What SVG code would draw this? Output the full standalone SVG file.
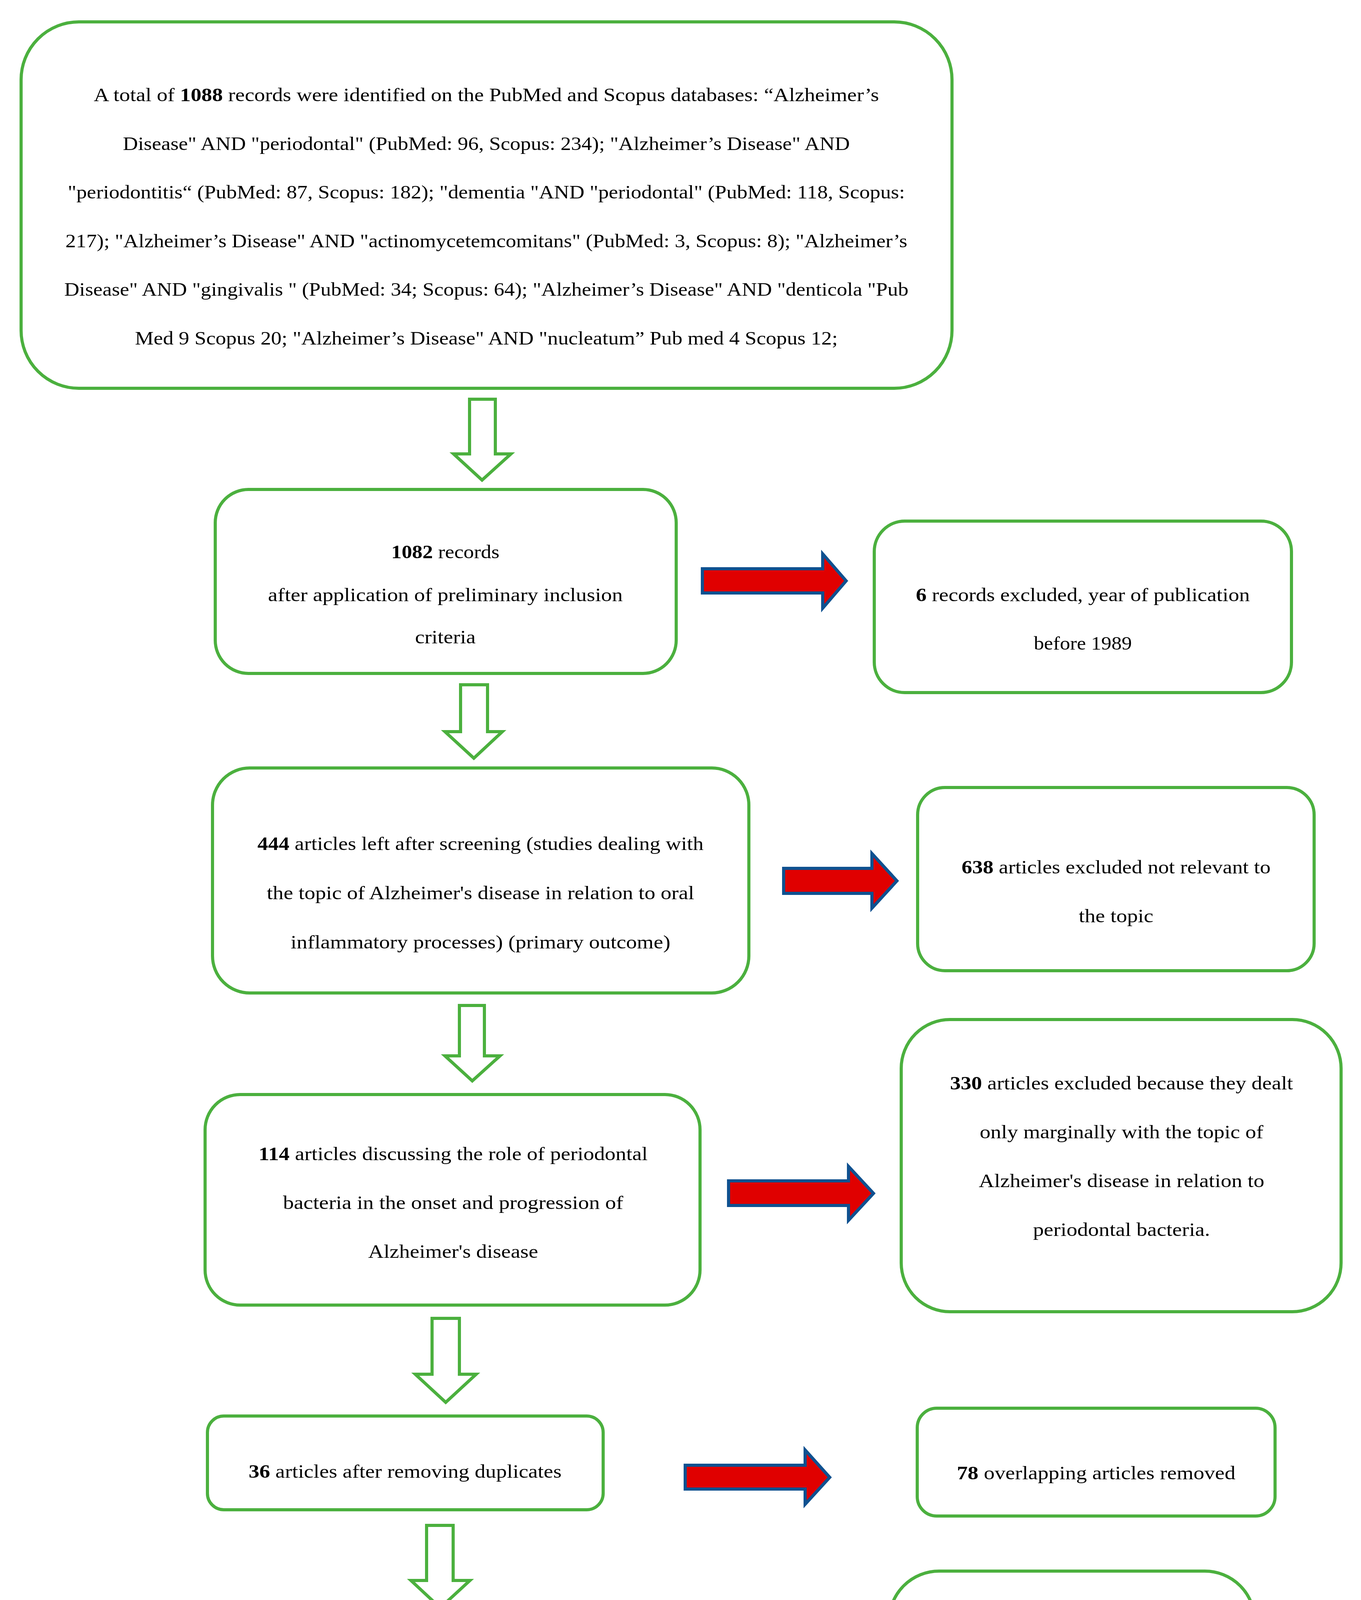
<svg xmlns="http://www.w3.org/2000/svg" width="3484" height="4750" viewBox="0 0 3484 4750">
<style>
.box{fill:#FFFFFF;stroke:#4BB03E;stroke-width:8}
.ga{fill:#FFFFFF;stroke:#4BB03E;stroke-width:8;stroke-linejoin:miter}
.ra{fill:#E00000;stroke:#0F5190;stroke-width:8;stroke-linejoin:miter}
.t{font-family:"Liberation Serif","Times New Roman",serif;font-size:49px;fill:#000000;text-anchor:middle}
.b{font-weight:bold}
</style>
<rect x="0" y="0" width="3484" height="4750" fill="#FFFFFF"/>
<g id="connectors">
<path class="ga" d="M1202,1022 L1268,1022 L1268,1162 L1308,1162 L1234,1229 L1161,1162 L1202,1162 Z"/>
<path class="ga" d="M1179,1753 L1248,1753 L1248,1873 L1286,1873 L1213,1941 L1139,1873 L1179,1873 Z"/>
<path class="ga" d="M1176,2574 L1240,2574 L1240,2703 L1280,2703 L1209,2767 L1139,2703 L1176,2703 Z"/>
<path class="ga" d="M1106,3375 L1176,3375 L1176,3518 L1219,3518 L1141,3590 L1063,3518 L1106,3518 Z"/>
<path class="ga" d="M1092,3905 L1160,3905 L1160,4046 L1203,4046 L1127,4116 L1052,4046 L1092,4046 Z"/>
<path class="ra" d="M1798,1456 L2106,1456 L2106,1418 L2166,1487 L2106,1557 L2106,1518 L1798,1518 Z"/>
<path class="ra" d="M2006,2223 L2232,2223 L2232,2185 L2296,2255 L2232,2325 L2232,2287 L2006,2287 Z"/>
<path class="ra" d="M1865,3023 L2172,3023 L2172,2986 L2236,3055 L2172,3124 L2172,3086 L1865,3086 Z"/>
<path class="ra" d="M1754,3751 L2061,3751 L2061,3712 L2124,3782 L2061,3851 L2061,3812 L1754,3812 Z"/>
<path class="ra" d="M1818,4334 L2126,4334 L2126,4296 L2188,4364 L2126,4430 L2126,4394 L1818,4394 Z"/>
</g>
<g id="n1">
<rect class="box" x="54" y="56" width="2383" height="938" rx="148" ry="148"/>
<text class="t" x="1245" y="259" textLength="2010" lengthAdjust="spacingAndGlyphs">A total of <tspan class="b">1088</tspan> records were identified on the PubMed and Scopus databases: “Alzheimer’s</text>
<text class="t" x="1245" y="384" textLength="1861" lengthAdjust="spacingAndGlyphs">Disease" AND "periodontal" (PubMed: 96, Scopus: 234); "Alzheimer’s Disease" AND</text>
<text class="t" x="1245" y="508" textLength="2143" lengthAdjust="spacingAndGlyphs">"periodontitis“ (PubMed: 87, Scopus: 182); "dementia "AND "periodontal" (PubMed: 118, Scopus:</text>
<text class="t" x="1245" y="633" textLength="2155" lengthAdjust="spacingAndGlyphs">217); "Alzheimer’s Disease" AND "actinomycetemcomitans" (PubMed: 3, Scopus: 8); "Alzheimer’s</text>
<text class="t" x="1245" y="757" textLength="2161" lengthAdjust="spacingAndGlyphs">Disease" AND "gingivalis " (PubMed: 34; Scopus: 64); "Alzheimer’s Disease" AND "denticola "Pub</text>
<text class="t" x="1245" y="882" textLength="1799" lengthAdjust="spacingAndGlyphs">Med 9 Scopus 20; "Alzheimer’s Disease" AND "nucleatum” Pub med 4 Scopus 12;</text>
</g>
<g id="n2">
<rect class="box" x="551" y="1253" width="1180" height="471" rx="85" ry="85"/>
<text class="t" x="1140" y="1429" textLength="277" lengthAdjust="spacingAndGlyphs"><tspan class="b">1082</tspan> records</text>
<text class="t" x="1140" y="1539" textLength="908" lengthAdjust="spacingAndGlyphs">after application of preliminary inclusion</text>
<text class="t" x="1140" y="1647" textLength="155" lengthAdjust="spacingAndGlyphs">criteria</text>
</g>
<g id="n3">
<rect class="box" x="2238" y="1334" width="1068" height="439" rx="78" ry="78"/>
<text class="t" x="2772" y="1539" textLength="855" lengthAdjust="spacingAndGlyphs"><tspan class="b">6</tspan> records excluded, year of publication</text>
<text class="t" x="2772" y="1663" textLength="251" lengthAdjust="spacingAndGlyphs">before 1989</text>
</g>
<g id="n4">
<rect class="box" x="544" y="1966" width="1373" height="576" rx="95" ry="95"/>
<text class="t" x="1230" y="2176" textLength="1142" lengthAdjust="spacingAndGlyphs"><tspan class="b">444</tspan> articles left after screening (studies dealing with</text>
<text class="t" x="1230" y="2302" textLength="1094" lengthAdjust="spacingAndGlyphs">the topic of Alzheimer's disease in relation to oral</text>
<text class="t" x="1230" y="2428" textLength="972" lengthAdjust="spacingAndGlyphs">inflammatory processes) (primary outcome)</text>
</g>
<g id="n5">
<rect class="box" x="2349" y="2016" width="1015" height="469" rx="70" ry="70"/>
<text class="t" x="2857" y="2236" textLength="791" lengthAdjust="spacingAndGlyphs"><tspan class="b">638</tspan> articles excluded not relevant to</text>
<text class="t" x="2857" y="2361" textLength="191" lengthAdjust="spacingAndGlyphs">the topic</text>
</g>
<g id="n6">
<rect class="box" x="525" y="2802" width="1267" height="539" rx="90" ry="90"/>
<text class="t" x="1160" y="2970" textLength="996" lengthAdjust="spacingAndGlyphs"><tspan class="b">114</tspan> articles discussing the role of periodontal</text>
<text class="t" x="1160" y="3095" textLength="871" lengthAdjust="spacingAndGlyphs">bacteria in the onset and progression of</text>
<text class="t" x="1160" y="3220" textLength="435" lengthAdjust="spacingAndGlyphs">Alzheimer's disease</text>
</g>
<g id="n7">
<rect class="box" x="2307" y="2610" width="1126" height="748" rx="125" ry="125"/>
<text class="t" x="2871" y="2789" textLength="878" lengthAdjust="spacingAndGlyphs"><tspan class="b">330</tspan> articles excluded because they dealt</text>
<text class="t" x="2871" y="2914" textLength="726" lengthAdjust="spacingAndGlyphs">only marginally with the topic of</text>
<text class="t" x="2871" y="3039" textLength="731" lengthAdjust="spacingAndGlyphs">Alzheimer's disease in relation to</text>
<text class="t" x="2871" y="3164" textLength="453" lengthAdjust="spacingAndGlyphs">periodontal bacteria.</text>
</g>
<g id="n8">
<rect class="box" x="531" y="3625" width="1013" height="240" rx="42" ry="42"/>
<text class="t" x="1037" y="3783" textLength="801" lengthAdjust="spacingAndGlyphs"><tspan class="b">36</tspan> articles after removing duplicates</text>
</g>
<g id="n9">
<rect class="box" x="2348" y="3605" width="916" height="276" rx="50" ry="50"/>
<text class="t" x="2806" y="3787" textLength="713" lengthAdjust="spacingAndGlyphs"><tspan class="b">78</tspan> overlapping articles removed</text>
</g>
<g id="n10">
<rect class="box" x="531" y="4145" width="1176" height="401" rx="72" ry="72"/>
<text class="t" x="1118" y="4330" textLength="912" lengthAdjust="spacingAndGlyphs"><tspan class="b">15</tspan> articles included in the qualitative analysis</text>
<text class="t" x="1118" y="4442" textLength="418" lengthAdjust="spacingAndGlyphs">(secondary outcome)</text>
</g>
<g id="n11">
<rect class="box" x="2276" y="4022" width="936" height="678" rx="128" ry="128"/>
<text class="t" x="2743" y="4220" textLength="730" lengthAdjust="spacingAndGlyphs"><tspan class="b">21</tspan> articles excluded because they</text>
<text class="t" x="2743" y="4345" textLength="645" lengthAdjust="spacingAndGlyphs">did not meet all the inclusion</text>
<text class="t" x="2743" y="4469" textLength="728" lengthAdjust="spacingAndGlyphs">criteria for at least one of the two</text>
<text class="t" x="2743" y="4594" textLength="227" lengthAdjust="spacingAndGlyphs">reviewers.</text>
</g>
</svg>
